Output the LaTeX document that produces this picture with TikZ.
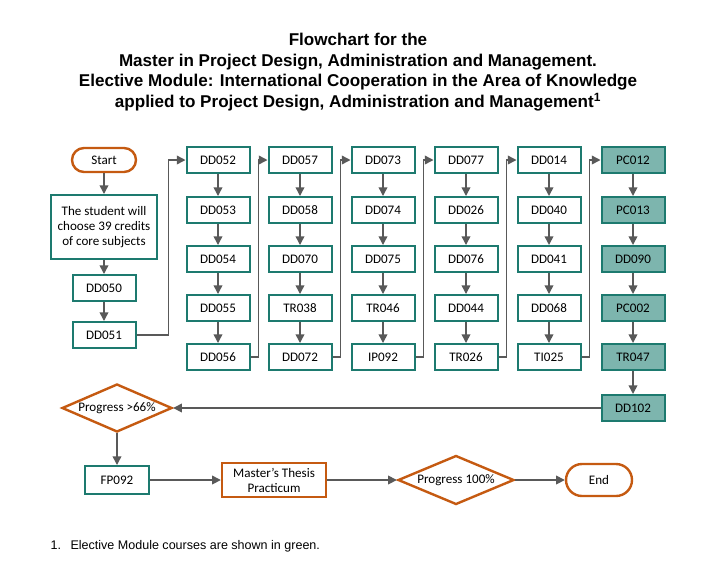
\documentclass[tikz,border=0pt]{standalone}
\usepackage{fontspec}
\setmainfont{Carlito}
\newfontfamily\titlefont{Liberation Sans}
\usetikzlibrary{arrows.meta,shapes.geometric,positioning}
\definecolor{teal1}{HTML}{1D7A6F}
\definecolor{tealfill}{HTML}{7DB5AE}
\definecolor{orng}{HTML}{C55A11}
\definecolor{arrgray}{HTML}{595959}
\tikzset{
  box/.style={draw=teal1,line width=1.5pt,fill=white,minimum width=47.25pt,minimum height=19.5pt,inner sep=1pt,font=\fontsize{9.8}{11.2}\selectfont},
  gbox/.style={box,fill=tealfill},
  obox/.style={draw=orng,line width=1.8pt,fill=white,align=center,inner sep=1pt,font=\fontsize{9.8}{11.2}\selectfont},
  odia/.style={draw=orng,line width=1.8pt,fill=white,diamond,shape aspect=2.3,inner sep=0pt,font=\fontsize{9.8}{11.2}\selectfont},
  arr/.style={draw=arrgray,line width=1.1pt,-{Triangle[length=6.5pt,width=6.5pt]}},
}
\begin{document}
\begin{tikzpicture}[x=0.75pt,y=-0.75pt]
\useasboundingbox (0,0) rectangle (716,583);
\fill[white] (0,0) rectangle (716,583);
\node[font=\titlefont\bfseries\fontsize{12.8}{15.5}\selectfont,align=center] (title) at (358,72)
 {Flowchart for the\\Master in Project Design, Administration and Management.\\Elective Module: International Cooperation in the Area of Knowledge\\applied to Project Design, Administration and Management\textsuperscript{1}};
% left column
\node[obox,rounded corners=9pt,minimum width=48pt,minimum height=18pt] (start) at (104,160) {Start};
\node[box,align=center,minimum width=79.5pt,minimum height=48pt] (stu) at (104,227) {The student will\\choose 39 credits\\of core subjects};
\node[box] (dd050) at (104,288) {DD050};
\node[box] (dd051) at (104,335) {DD051};
% columns
\foreach \n/\x/\y/\t in {
 a1/218/160/DD052,a2/218/210/DD053,a3/218/259/DD054,a4/218/308/DD055,a5/218/357/DD056,
 b1/300/160/DD057,b2/300/210/DD058,b3/300/259/DD070,b4/300/308/TR038,b5/300/357/DD072,
 c1/383/160/DD073,c2/383/210/DD074,c3/383/259/DD075,c4/383/308/TR046,c5/383/357/IP092,
 d1/466/160/DD077,d2/466/210/DD026,d3/466/259/DD076,d4/466/308/DD044,d5/466/357/TR026,
 e1/549/160/DD014,e2/549/210/DD040,e3/549/259/DD041,e4/549/308/DD068,e5/549/357/TI025}
 \node[box] (\n) at (\x,\y) {\t};
\foreach \n/\y/\t in {f1/160/PC012,f2/210/PC013,f3/259/DD090,f4/308/PC002,f5/357/TR047,f6/408/DD102}
 \node[gbox] (\n) at (633,\y) {\t};
% bottom
\node[odia,minimum width=82.5pt,minimum height=36pt] (p66) at (117,408) {Progress >66\%};
\node[box,minimum width=48pt,minimum height=21pt] (fp) at (117,480) {FP092};
\node[obox,minimum width=78pt,minimum height=25.5pt] (mt) at (274,480) {Master's Thesis\\Practicum};
\node[odia,minimum width=87pt,minimum height=36.75pt] (p100) at (456,480) {Progress 100\%};
\node[obox,rounded corners=12pt,minimum width=49.5pt,minimum height=24pt] (end) at (599,480) {End};
\node[anchor=west,font=\titlefont\fontsize{9.4}{11}\selectfont] (fn) at (46,546) {1.\hspace{0.75em}Elective Module courses are shown in green.};
% arrows
\draw[arr] (start) -- (stu);
\draw[arr] (stu) -- (dd050);
\draw[arr] (dd050) -- (dd051);
\foreach \c in {a,b,c,d,e,f}{
 \draw[arr] (\c1) -- (\c2);
 \draw[arr] (\c2) -- (\c3);
 \draw[arr] (\c3) -- (\c4);
 \draw[arr] (\c4) -- (\c5);
}
\draw[arr] (f5) -- (f6);
\draw[arr] (dd051.east) -- ++(32,0) |- (a1.west);
\draw[arr] (a5.east) -- ++(8,0) |- (b1.west);
\draw[arr] (b5.east) -- ++(8,0) |- (c1.west);
\draw[arr] (c5.east) -- ++(8,0) |- (d1.west);
\draw[arr] (d5.east) -- ++(8,0) |- (e1.west);
\draw[arr] (e5.east) -- ++(8,0) |- (f1.west);
\draw[arr] (f6) -- (p66);
\draw[arr] (p66) -- (fp);
\draw[arr] (fp) -- (mt);
\draw[arr] (mt) -- (p100);
\draw[arr] (p100) -- (end);
\end{tikzpicture}
\end{document}
